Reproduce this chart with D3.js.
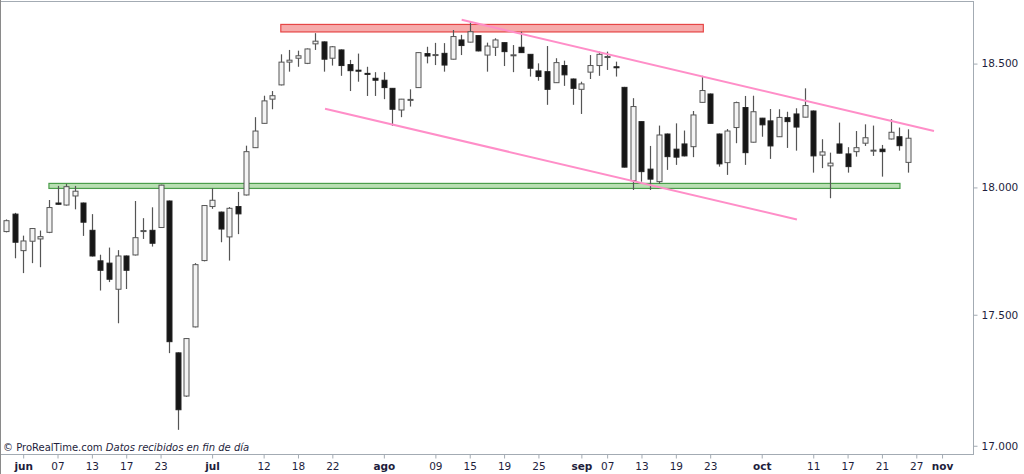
<!DOCTYPE html>
<html>
<head>
<meta charset="utf-8">
<script src="https://cdn.jsdelivr.net/npm/d3@7"></script>
<style>
  body { margin: 0; background: #fff; }
  svg { display: block; }
</style>
</head>
<body>
<div id="chart"></div>
<script>
// daily candles (values in index points)
var opens = [17825,17894,17750,17787,17796,17822,17938,17930,17966,17938,
  17830,17710,17701,17599,17729,17733,17826,17830,17841,17946,
  17353,17188,17453,17711,17924,17902,17804,17924,17970,18159,
  18257,18355,18413,18506,18522,18501,18581,18589,18522,18556,
  18496,18473,18460,18440,18432,18399,18311,18350,18402,18541,
  18533,18542,18518,18597,18588,18615,18535,18567,18586,18532,
  18567,18538,18470,18467,18422,18492,18437,18395,18465,18492,
  18525,18487,18403,18027,18264,18073,18023,18214,18153,18174,
  18163,18342,18376,18214,18099,18240,18321,18181,18278,18267,
  18203,18280,18295,18282,18307,18129,18086,18174,18134,18143,
  18177,18145,18153,18194,18203,18100];
var highs = [17873,17899,17809,17839,17829,17950,18006,18014,18006,17940,
  17894,17734,17762,17752,17731,17946,17878,17921,18011,17948,
  17355,17410,17701,17930,17997,17904,17922,17982,18167,18282,
  18369,18388,18538,18556,18553,18562,18625,18591,18572,18558,
  18515,18541,18487,18465,18465,18400,18356,18395,18546,18569,
  18585,18584,18638,18618,18672,18616,18586,18604,18587,18576,
  18631,18539,18501,18572,18522,18512,18439,18426,18535,18549,
  18549,18508,18405,18359,18265,18166,18248,18216,18257,18228,
  18307,18450,18378,18216,18234,18345,18368,18369,18279,18315,
  18314,18304,18318,18399,18309,18193,18139,18260,18161,18226,
  18253,18248,18170,18274,18240,18233];
var lows = [17822,17720,17662,17701,17685,17819,17932,17928,17913,17808,
  17727,17594,17627,17467,17600,17731,17796,17766,17839,17352,
  17060,17185,17451,17708,17915,17783,17711,17815,17968,18158,
  18256,18314,18411,18467,18487,18498,18556,18467,18492,18450,
  18388,18426,18368,18368,18355,18247,18282,18325,18401,18501,
  18494,18467,18517,18535,18587,18550,18467,18531,18490,18465,
  18544,18447,18430,18332,18421,18409,18332,18295,18437,18450,
  18474,18447,18080,17990,18023,17990,18014,18070,18090,18124,
  18121,18341,18256,18083,18050,18177,18090,18180,18203,18114,
  18202,18158,18147,18281,18059,18077,17957,18136,18059,18123,
  18166,18126,18043,18192,18147,18059];
var closes = [17868,17783,17788,17837,17805,17920,17933,18003,17985,17862,
  17729,17673,17638,17729,17673,17801,17829,17779,18009,17396,
  17136,17408,17695,17928,17949,17835,17917,17895,18143,18226,
  18348,18369,18506,18514,18532,18560,18592,18518,18569,18492,
  18471,18469,18456,18432,18402,18314,18355,18354,18545,18531,
  18537,18494,18611,18574,18631,18552,18572,18597,18549,18536,
  18545,18481,18447,18395,18504,18454,18399,18417,18492,18538,
  18529,18483,18081,18325,18063,18033,18210,18123,18121,18126,
  18291,18390,18257,18094,18226,18341,18139,18304,18251,18166,
  18281,18264,18242,18329,18126,18142,18097,18137,18083,18159,
  18199,18149,18143,18221,18167,18197];

// x axis: candle index of each tick and its label
var tickIdx = [2, 6, 10, 14, 18, 24, 30, 34, 38, 44, 50, 54, 58, 62, 67, 70, 74, 78, 82, 88, 94, 98, 102, 106, 109];
var tickLabels = ["jun","07","13","17","23","jul","12","18","22","ago","09","15","19","25","sep","07","13","19","23","oct","11","17","21","27","nov"];
var monthLabels = ["jun","jul","ago","sep","oct","nov"];
var priceTicks = [17000, 17500, 18000, 18500];

// drawn zones and trend lines: [index, price]
var redZone = [[32, 18630], [81.2, 18661]];
var greenZone = [[5, 17996], [104.1, 18016]];
var upperTrend = [[53.06, 18680], [108.06, 18226]];
var lowerTrend = [[37.15, 18316], [92.1, 17873]];

var W = 1024, H = 474,
    plotRight = 973, plotTop = 1, plotBottom = 454;

var svg = d3.select("#chart").append("svg")
    .attr("width", W)
    .attr("height", H);

var x = d3.scaleLinear().domain([0, 105]).range([6, 907.7]);
var y = d3.scaleLog().domain([16969, 18758]).range([plotBottom, plotTop]);

// plot frame
svg.append("rect")
    .attr("x", 0.5).attr("y", plotTop + 0.5)
    .attr("width", plotRight).attr("height", plotBottom - plotTop)
    .attr("fill", "none")
    .attr("stroke", "#a3abb3");
svg.append("line")
    .attr("x1", 0.5).attr("x2", 0.5).attr("y1", 0).attr("y2", H)
    .attr("stroke", "#8a8a8a");

// zones
function zone(z, fill, stroke) {
  svg.append("rect")
      .attr("x", x(z[0][0]))
      .attr("y", y(z[1][1]))
      .attr("width", x(z[1][0]) - x(z[0][0]))
      .attr("height", y(z[0][1]) - y(z[1][1]))
      .attr("fill", fill)
      .attr("stroke", stroke)
      .attr("stroke-width", 1.2);
}
zone(redZone, "#f6abab", "#e64646");
zone(greenZone, "#b9dfb3", "#4b9e4b");

// candles
var candles = svg.append("g").attr("class", "candles");
opens.forEach(function(o, i) {
  var c = closes[i],
      cx = Math.round(x(i)) + 0.5,
      up = c >= o;
  candles.append("line")
      .attr("x1", cx).attr("x2", cx)
      .attr("y1", y(highs[i])).attr("y2", y(lows[i]))
      .attr("stroke", "#555")
      .attr("stroke-width", 1.2);
  var top = y(Math.max(o, c)), bot = y(Math.min(o, c));
  candles.append("rect")
      .attr("x", cx - 2.5)
      .attr("y", top)
      .attr("width", 5)
      .attr("height", Math.max(bot - top, 1))
      .attr("fill", up ? "#f4f4f4" : "#161616")
      .attr("stroke", up ? "#555" : "#222")
      .attr("stroke-width", 1);
});

// trend lines
[upperTrend, lowerTrend].forEach(function(t) {
  svg.append("line")
      .attr("x1", x(t[0][0])).attr("y1", y(t[0][1]))
      .attr("x2", x(t[1][0])).attr("y2", y(t[1][1]))
      .attr("stroke", "#ff8ec8")
      .attr("stroke-width", 2);
});

// right price axis
var yAxis = d3.axisRight(y)
    .tickValues(priceTicks)
    .tickSize(4)
    .tickPadding(4)
    .tickFormat(function(d) { return d3.format(",")(d).replace(",", "."); });
var gy = svg.append("g")
    .attr("transform", "translate(" + (plotRight + 0.5) + ",0)")
    .call(yAxis);
gy.select(".domain").remove();
gy.selectAll("line").attr("stroke", "#a3abb3");
gy.selectAll("text")
    .style("font-family", "'DejaVu Sans', Verdana, sans-serif")
    .style("font-size", "10.5px")
    .attr("fill", "#1e1e3c");

// bottom date axis
var xAxis = d3.axisBottom(x)
    .tickValues(tickIdx)
    .tickSize(4)
    .tickPadding(4)
    .tickFormat(function(d, i) { return tickLabels[i]; });
var gx = svg.append("g")
    .attr("transform", "translate(0," + (plotBottom + 0.5) + ")")
    .call(xAxis);
gx.select(".domain").remove();
gx.selectAll("line").attr("stroke", "#a3abb3");
gx.selectAll("text")
    .style("font-family", "'DejaVu Sans', Verdana, sans-serif")
    .style("font-size", "10.5px")
    .style("font-weight", function(d, i) { return monthLabels.indexOf(tickLabels[i]) >= 0 ? "bold" : "normal"; })
    .attr("fill", "#1e1e3c");

// source note
var note = svg.append("text")
    .attr("x", 3)
    .attr("y", 451)
    .style("font-family", "'DejaVu Sans', Verdana, sans-serif")
    .style("font-size", "10px")
    .attr("fill", "#1e1e3c");
note.append("tspan").text("© ProRealTime.com ");
note.append("tspan").style("font-style", "italic").text("Datos recibidos en fin de día");
</script>
</body>
</html>
